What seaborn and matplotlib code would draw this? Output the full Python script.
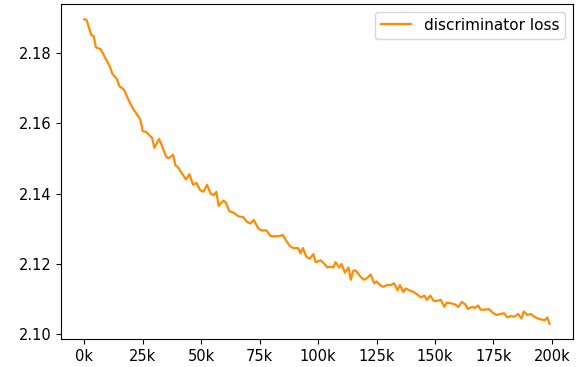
import matplotlib
matplotlib.use("Agg")
import matplotlib.pyplot as plt
from matplotlib.ticker import FuncFormatter, MultipleLocator
import seaborn as sns
import pandas as pd

steps_k = [0, 1, 3, 4, 5, 7, 9, 11, 12, 14, 15, 17, 19, 21, 23, 24, 25, 26.5, 28, 29,
           30, 32, 33, 35, 36, 38, 39, 40, 41.5, 43.5, 45, 46.5, 48, 49.5, 51, 52.5,
           54, 55.5, 56.5, 57.5, 59.5, 60.5, 62, 64, 66, 68, 69.5, 71, 72.5, 74.5, 76,
           78, 79.5, 81.5, 84, 85, 86, 88, 89.5, 91.5, 92.5, 93.5, 95, 96.5, 98, 99,
           101, 102, 104, 105, 106.5, 107.5, 109, 110, 111.5, 113, 114, 115, 116, 118,
           119.5, 121, 122.5, 124, 125, 126.5, 128, 129.5, 131, 132.5, 134, 135, 136.5,
           137.5, 139, 141, 143, 144, 145.5, 146.5, 148, 149.5, 151, 152.5, 154, 155,
           157, 158.5, 160, 161.5, 163, 164, 166, 167, 168.5, 169.5, 171.5, 173, 175,
           176.5, 178, 179.5, 181, 182.5, 184, 185.5, 187, 188, 189.5, 191, 192.5, 194,
           195.5, 197, 198, 199]
loss = [2.1895, 2.1893, 2.1850, 2.1848, 2.1815, 2.1810, 2.1785, 2.1760, 2.1740, 2.1725,
        2.1705, 2.1695, 2.1665, 2.1640, 2.1620, 2.1610, 2.1577, 2.1575, 2.1565, 2.1558,
        2.1530, 2.1555, 2.1540, 2.1505, 2.1500, 2.1510, 2.1480, 2.1475, 2.1460, 2.1440,
        2.1455, 2.1425, 2.1430, 2.1410, 2.1405, 2.1425, 2.1400, 2.1395, 2.1405, 2.1365,
        2.1380, 2.1375, 2.1350, 2.1345, 2.1335, 2.1333, 2.1320, 2.1315, 2.1325, 2.1300,
        2.1295, 2.1295, 2.1280, 2.1278, 2.1280, 2.1282, 2.1270, 2.1250, 2.1245, 2.1245,
        2.1230, 2.1245, 2.1220, 2.1215, 2.1228, 2.1205, 2.1210, 2.1205, 2.1190, 2.1192,
        2.1190, 2.1205, 2.1190, 2.1200, 2.1175, 2.1190, 2.1155, 2.1180, 2.1182, 2.1165,
        2.1155, 2.1160, 2.1170, 2.1145, 2.1150, 2.1140, 2.1135, 2.1140, 2.1140, 2.1145,
        2.1125, 2.1140, 2.1120, 2.1130, 2.1125, 2.1120, 2.1110, 2.1105, 2.1110, 2.1098,
        2.1110, 2.1095, 2.1095, 2.1098, 2.1078, 2.1090, 2.1088, 2.1085, 2.1078, 2.1092,
        2.1085, 2.1072, 2.1078, 2.1075, 2.1082, 2.1070, 2.1070, 2.1072, 2.1060, 2.1055,
        2.1058, 2.1060, 2.1048, 2.1052, 2.1050, 2.1058, 2.1045, 2.1065, 2.1055, 2.1058,
        2.1050, 2.1045, 2.1042, 2.1040, 2.1048, 2.1030]

series_label = "discriminator loss"

df = pd.DataFrame({"step": [s * 1000 for s in steps_k], "loss": loss})

fig, ax = plt.subplots(figsize=(5.78, 3.67), dpi=100)
fig.subplots_adjust(left=0.1055, right=0.991, bottom=0.0763, top=0.989)

sns.lineplot(data=df, x="step", y="loss", ax=ax, color="darkorange",
             linewidth=1.6, label=series_label)

ax.xaxis.set_major_locator(MultipleLocator(25000))
ax.xaxis.set_major_formatter(FuncFormatter(lambda v, p: f"{int(round(v / 1000))}k"))
ax.yaxis.set_major_locator(MultipleLocator(0.02))
ax.yaxis.set_major_formatter(FuncFormatter(lambda v, p: f"{v:.2f}"))
ax.tick_params(labelsize=10.5)
ax.set_xlabel("")
ax.set_ylabel("")
ax.legend(loc="upper right", fontsize=11)

fig.savefig("out.png", dpi=100)
